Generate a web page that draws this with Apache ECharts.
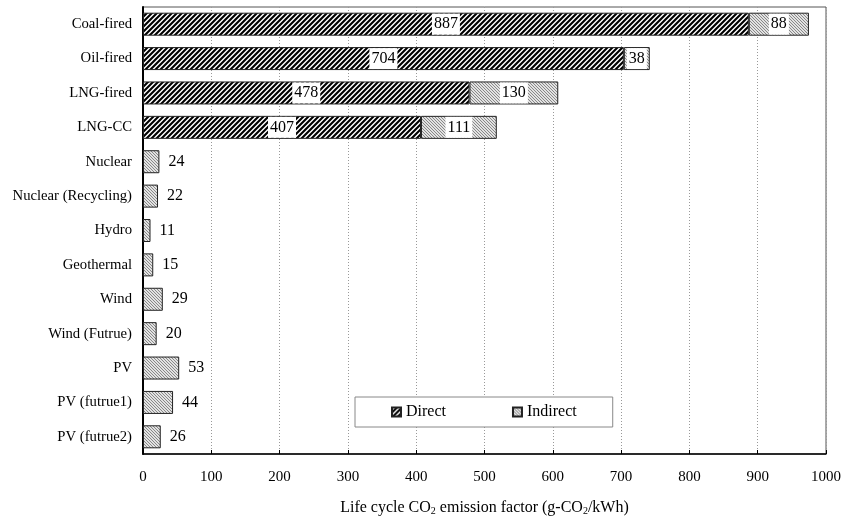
<!DOCTYPE html>
<html>
<head>
<meta charset="utf-8">
<script src="https://cdn.jsdelivr.net/npm/echarts@6/dist/echarts.min.js"></script>
<style>
  html, body { margin: 0; padding: 0; background: #fff; }
  #chart { width: 844px; height: 522px; }
</style>
</head>
<body>
<div id="chart"></div>
<script>
// Power sources, top to bottom
const categories = [
  'Coal-fired', 'Oil-fired', 'LNG-fired', 'LNG-CC', 'Nuclear',
  'Nuclear (Recycling)', 'Hydro', 'Geothermal', 'Wind', 'Wind (Futrue)',
  'PV', 'PV (futrue1)', 'PV (futrue2)'
];
// Direct emissions (fuel combustion), g-CO2/kWh
const directValues = [887, 704, 478, 407, null, null, null, null, null, null, null, null, null];
// Indirect emissions (facilities, operation), g-CO2/kWh
const indirectValues = [88, 38, 130, 111, 24, 22, 11, 15, 29, 20, 53, 44, 26];
const xTicks = [0, 100, 200, 300, 400, 500, 600, 700, 800, 900, 1000];

const FONT = '"Liberation Serif", "DejaVu Serif", serif';

// Hatch tile: diagonal strokes repeated across a small canvas
function hatch(size, bg, stroke, width, forward) {
  const c = document.createElement('canvas');
  c.width = size; c.height = size;
  const g = c.getContext('2d');
  g.fillStyle = bg;
  g.fillRect(0, 0, size, size);
  g.strokeStyle = stroke;
  g.lineWidth = width;
  g.beginPath();
  for (let k = -1; k <= 1; k++) {
    const o = k * size;
    if (forward) {
      g.moveTo(o - 1, size + 1); g.lineTo(o + size + 1, -1);
    } else {
      g.moveTo(o - 1, -1); g.lineTo(o + size + 1, size + 1);
    }
  }
  g.stroke();
  return { image: c, repeat: 'repeat' };
}

const directFill = hatch(5, '#ffffff', '#000000', 2.1, true);
const indirectFill = hatch(3, '#e2e2e2', '#888888', 1, false);

const fossilCount = directValues.filter(v => v != null).length;

const insideLabel = {
  show: true,
  position: 'inside',
  color: '#000',
  fontFamily: FONT,
  fontSize: 16,
  backgroundColor: '#fff',
  padding: [3, 2, 2, 2],
  lineHeight: 16
};
const rightLabel = {
  show: true,
  position: 'right',
  distance: 9,
  color: '#000',
  fontFamily: FONT,
  fontSize: 16
};

const directData = directValues.map(v => v == null ? '-' : v);
const indirectData = indirectValues.map((v, i) => ({
  value: v,
  label: i < fossilCount ? insideLabel : rightLabel
}));

const chart = echarts.init(document.getElementById('chart'), null, { renderer: 'canvas' });
chart.setOption({
  animation: false,
  backgroundColor: '#fff',
  textStyle: { fontFamily: FONT, color: '#000' },
  grid: {
    left: 143, right: 17, top: 7, bottom: 68,
    show: true, borderColor: '#555', borderWidth: 1
  },
  legend: {
    left: 355, top: 397,
    padding: [7, 36, 7, 36],
    itemGap: 66,
    itemWidth: 9, itemHeight: 9,
    icon: 'rect',
    borderColor: '#888', borderWidth: 1,
    backgroundColor: '#fff',
    textStyle: { fontFamily: FONT, fontSize: 16, color: '#000' },
    data: ['Direct', 'Indirect']
  },
  xAxis: {
    type: 'value',
    min: xTicks[0], max: xTicks[xTicks.length - 1], interval: 100,
    axisLine: { show: true, lineStyle: { color: '#000', width: 1.5 } },
    axisTick: { show: true, inside: true, length: 4, lineStyle: { color: '#000' } },
    axisLabel: { color: '#000', fontFamily: FONT, fontSize: 15, margin: 16, formatter: v => String(v) },
    splitLine: { show: true, lineStyle: { color: '#999', type: [1, 2], width: 1 } },
    name: 'Life cycle CO{sub|2} emission factor (g-CO{sub|2}/kWh)',
    nameLocation: 'middle',
    nameGap: 46,
    nameTextStyle: {
      color: '#000', fontFamily: FONT, fontSize: 16,
      rich: { sub: { fontFamily: FONT, fontSize: 10, color: '#000', verticalAlign: 'bottom', padding: [6, 0, 0, 0] } }
    }
  },
  yAxis: {
    type: 'category',
    inverse: true,
    data: categories,
    axisLine: { show: true, lineStyle: { color: '#000', width: 2 } },
    axisTick: { show: false },
    axisLabel: { color: '#000', fontFamily: FONT, fontSize: 14.7, margin: 11 },
    splitLine: { show: false }
  },
  series: [
    {
      name: 'Direct',
      type: 'bar',
      stack: 'total',
      barWidth: 23,
      data: directData,
      itemStyle: { color: directFill, borderColor: '#222', borderWidth: 1 },
      label: insideLabel
    },
    {
      name: 'Indirect',
      type: 'bar',
      stack: 'total',
      barWidth: 23,
      data: indirectData,
      itemStyle: { color: indirectFill, borderColor: '#222', borderWidth: 1 }
    }
  ]
});
</script>
</body>
</html>
